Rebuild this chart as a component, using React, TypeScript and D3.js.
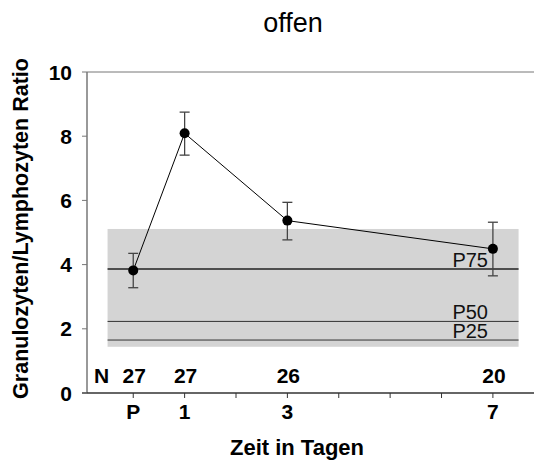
import React from "react";
import * as d3 from "d3";

const xLabels = ["P", "1", "2", "3", "4", "5", "6", "7"];
const xTickVals = [0, 1, 2, 3, 4, 5, 6, 7];
const xTickText = ["P", "1", "", "3", "", "", "", "7"];
const pointX = [0, 1, 3, 7];
const means = [3.82, 8.09, 5.37, 4.49];
const upper = [4.35, 8.75, 5.94, 5.32];
const lower = [3.28, 7.41, 4.77, 3.65];
const nCounts = ["27", "27", "26", "20"];
const yTicks = [0, 2, 4, 6, 8, 10];
const band = { x0: -0.5, x1: 7.5, lo: 1.44, hi: 5.11 };
const percentiles = [
  { label: "P75", value: 3.86 },
  { label: "P50", value: 2.23 },
  { label: "P25", value: 1.65 },
];

export default function App() {
  const W = 534, H = 466;
  const x = d3.scaleLinear().domain([-0.9, 7.8]).range([87, 534]);
  const y = d3.scaleLinear().domain([0, 10]).range([393, 72]);
  const line = d3.line<number>().x((_, i) => x(pointX[i])).y((d) => y(d));
  const font = "Liberation Sans, Arial, sans-serif";
  const axisColor = "#777";
  return (
    <svg width={W} height={H} style={{ position: "absolute", left: 0, top: 0 }} fontFamily={font}>
      <rect width={W} height={H} fill="#fff" />
      <text x={293} y={32} textAnchor="middle" fontSize={27}>offen</text>
      {/* grey band */}
      <rect x={x(band.x0)} y={y(band.hi)} width={x(band.x1) - x(band.x0)} height={y(band.lo) - y(band.hi)} fill="#d4d4d4" />
      {percentiles.map((p, i) => (
        <g key={p.label}>
          <line x1={x(band.x0)} x2={x(band.x1)} y1={y(p.value)} y2={y(p.value)} stroke={i === 0 ? "#222" : "#333"} strokeWidth={i === 0 ? 1.5 : 1} />
          <text x={488} y={y(p.value) - 2.5} textAnchor="end" fontSize={20} fill="#111">{p.label}</text>
        </g>
      ))}
      {/* axes */}
      <line x1={x(-0.9)} x2={534} y1={y(10)} y2={y(10)} stroke={axisColor} strokeWidth={1} />
      <line x1={x(-0.9)} x2={x(-0.9)} y1={y(10)} y2={y(0)} stroke={axisColor} strokeWidth={1.5} />
      <line x1={x(-0.9) - 5} x2={534} y1={y(0)} y2={y(0)} stroke="#333" strokeWidth={1.5} />
      {yTicks.map((t) => (
        <g key={t}>
          <line x1={x(-0.9) - 5} x2={x(-0.9)} y1={y(t)} y2={y(t)} stroke={axisColor} strokeWidth={1} />
          <text x={72} y={y(t) + 7.5} textAnchor="end" fontSize={21} fontWeight="bold">{t}</text>
        </g>
      ))}
      {xTickVals.map((t, i) => (
        <g key={xLabels[i]}>
          <line x1={x(t)} x2={x(t)} y1={y(0)} y2={y(0) + 5} stroke="#333" strokeWidth={1} />
          <text x={x(t)} y={419} textAnchor="middle" fontSize={21} fontWeight="bold">{xTickText[i]}</text>
        </g>
      ))}
      {/* N row */}
      <text x={101.5} y={383} textAnchor="middle" fontSize={21} fontWeight="bold">N</text>
      {nCounts.map((n, i) => (
        <text key={i} x={x(pointX[i]) + 1} y={383} textAnchor="middle" fontSize={21} fontWeight="bold">{n}</text>
      ))}
      {/* line */}
      <path d={line(means) || ""} fill="none" stroke="#000" strokeWidth={1} />
      {/* error bars */}
      {means.map((m, i) => (
        <g key={i} stroke="#444" strokeWidth={1.3}>
          <line x1={x(pointX[i])} x2={x(pointX[i])} y1={y(upper[i])} y2={y(lower[i])} />
          <line x1={x(pointX[i]) - 5} x2={x(pointX[i]) + 5} y1={y(upper[i])} y2={y(upper[i])} />
          <line x1={x(pointX[i]) - 5} x2={x(pointX[i]) + 5} y1={y(lower[i])} y2={y(lower[i])} />
        </g>
      ))}
      {means.map((m, i) => (
        <circle key={i} cx={x(pointX[i])} cy={y(m)} r={5} fill="#000" />
      ))}
      <text x={297} y={455} textAnchor="middle" fontSize={22} fontWeight="bold">Zeit in Tagen</text>
      <text transform={`translate(28,228.5) rotate(-90)`} textAnchor="middle" fontSize={21.5} fontWeight="bold">Granulozyten/Lymphozyten Ratio</text>
    </svg>
  );
}
